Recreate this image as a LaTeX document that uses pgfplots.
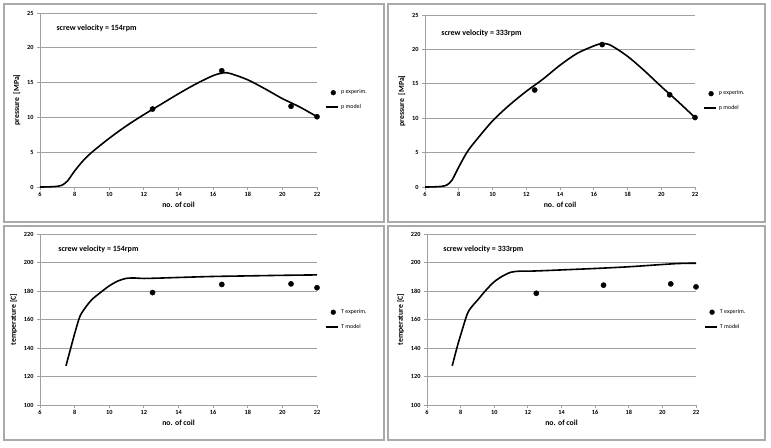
\documentclass[border=0pt]{standalone}
\usepackage{pgfplots}
\pgfplotsset{compat=1.18}
\usepackage{fontspec}
\setmainfont{Carlito}
\definecolor{gridc}{RGB}{160,160,160}
\definecolor{boxc}{RGB}{170,170,170}
\tikzset{ttl/.style={font=\bfseries\fontsize{8}{9}\selectfont, anchor=west}}
\pgfplotsset{
  panel/.style={
    scale only axis,
    axis lines*=left,
    xmin=6, xmax=22, xtick={6,8,...,22},
    ymajorgrids,
    grid style={gridc, line width=0.8bp},
    axis line style={gridc, line width=0.8bp},
    tick style={gridc, line width=0.8bp},
    tick align=outside,
    major tick length=3bp,
    /pgf/number format/assume math mode=true,
    ticklabel style={font=\bfseries\fontsize{6.3}{7}\selectfont},
    xticklabel style={yshift=1bp},
    label style={font=\bfseries\fontsize{7.8}{9}\selectfont},
    xlabel={no. of coil},
    xlabel style={yshift=2bp},
    legend style={at={(1.03,0.5)}, anchor=west, draw=none, fill=none,
      font=\fontsize{6}{7}\selectfont, row sep=5bp, inner sep=0pt},
    legend cell align=left,
    clip=false,
  },
  model/.style={black, line width=1.6bp, smooth, no marks,
    legend image code/.code={\draw[black, line width=1.6bp] (0bp,0bp) -- (12bp,0bp);}},
  expm/.style={black, only marks, mark=*, mark size=2.6bp,
    legend image code/.code={\fill[black] (7bp,0bp) circle (2.4bp);}},
}
\begin{document}
\begin{tikzpicture}
\path[use as bounding box] (0,0) rectangle (771bp,448bp);
\draw[boxc, line width=1.2bp] (4bp,226bp) rectangle (384bp,444bp);
\draw[boxc, line width=1.2bp] (388bp,226bp) rectangle (765bp,444bp);
\draw[boxc, line width=1.2bp] (4bp,8bp) rectangle (384bp,222bp);
\draw[boxc, line width=1.2bp] (388bp,8bp) rectangle (765bp,222bp);

% Panel 1: pressure 154 rpm
\begin{axis}[panel, at={(40bp,261bp)}, anchor=south west,
  width=277bp, height=174bp, ymin=0, ymax=25, ytick={0,5,...,25},
  ylabel={pressure \ [MPa]}]
\addplot[expm] coordinates {(12.5,11.2) (16.5,16.7) (20.5,11.6) (22,10.1)};
\addlegendentry{p experim.}
\addplot[model] coordinates {(6,0) (6.5,0.02) (7,0.1) (7.3,0.3) (7.6,0.9) (8,2.3) (8.5,3.8) (9,5.0) (10,7.0) (11,8.8) (12,10.4) (13,11.9) (14,13.4) (15,14.8) (16,16.0) (16.6,16.4) (17,16.3) (18,15.4) (19,14.1) (20,12.7) (21,11.5) (22,10.1)};
\addlegendentry{p model}
\node[ttl] at (rel axis cs:0.047,0.914) {screw velocity = 154rpm};
\end{axis}

% Panel 2: pressure 333 rpm
\begin{axis}[panel, at={(425bp,261bp)}, anchor=south west,
  width=270bp, height=172bp, ymin=0, ymax=25, ytick={0,5,...,25},
  ylabel={pressure \ [MPa]}]
\addplot[expm] coordinates {(12.5,14.1) (16.5,20.7) (20.5,13.4) (22,10.1)};
\addlegendentry{p experim.}
\addplot[model] coordinates {(6,0) (6.5,0.02) (7,0.1) (7.3,0.3) (7.6,1.0) (8,2.9) (8.5,5.1) (9,6.7) (10,9.6) (11,11.9) (12,13.9) (13,15.7) (14,17.7) (15,19.4) (16,20.5) (16.5,20.85) (17,20.6) (18,19.0) (19,16.9) (20,14.6) (21,12.4) (22,10.1)};
\addlegendentry{p model}
\node[ttl] at (rel axis cs:0.048,0.895) {screw velocity = 333rpm};
\end{axis}

% Panel 3: temperature 154 rpm
\begin{axis}[panel, at={(40bp,43bp)}, anchor=south west,
  width=277bp, height=171bp, ymin=100, ymax=220, ytick={100,120,...,220},
  ylabel={temperature [C]}]
\addplot[expm] coordinates {(12.5,178.9) (16.5,184.6) (20.5,185.0) (22,182.3)};
\addlegendentry{T experim.}
\addplot[model] coordinates {(7.5,127.5) (7.8,141) (8,150) (8.3,162) (8.6,168) (9,174) (9.5,179) (10,183.6) (10.5,187) (11,188.9) (11.5,189.1) (12,188.8) (13,189.1) (14,189.5) (16,190.2) (18,190.6) (20,191.0) (22,191.3)};
\addlegendentry{T model}
\node[ttl] at (rel axis cs:0.054,0.912) {screw velocity = 154rpm};
\end{axis}

% Panel 4: temperature 333 rpm
\begin{axis}[panel, at={(427bp,43bp)}, anchor=south west,
  width=269bp, height=171bp, ymin=100, ymax=220, ytick={100,120,...,220},
  ylabel={temperature [C]}]
\addplot[expm] coordinates {(12.5,178.4) (16.5,184.1) (20.5,185.0) (22,182.9)};
\addlegendentry{T experim.}
\addplot[model] coordinates {(7.5,127.5) (7.8,141) (8,149) (8.4,164) (8.7,169.5) (9,173.5) (9.5,180.5) (10,186.5) (10.5,190.5) (11,193.2) (11.5,193.9) (12,193.9) (13,194.3) (14,194.8) (16,195.8) (18,197.0) (20,198.6) (21,199.3) (22,199.5)};
\addlegendentry{T model}
\node[ttl] at (rel axis cs:0.048,0.912) {screw velocity = 333rpm};
\end{axis}
\end{tikzpicture}
\end{document}
